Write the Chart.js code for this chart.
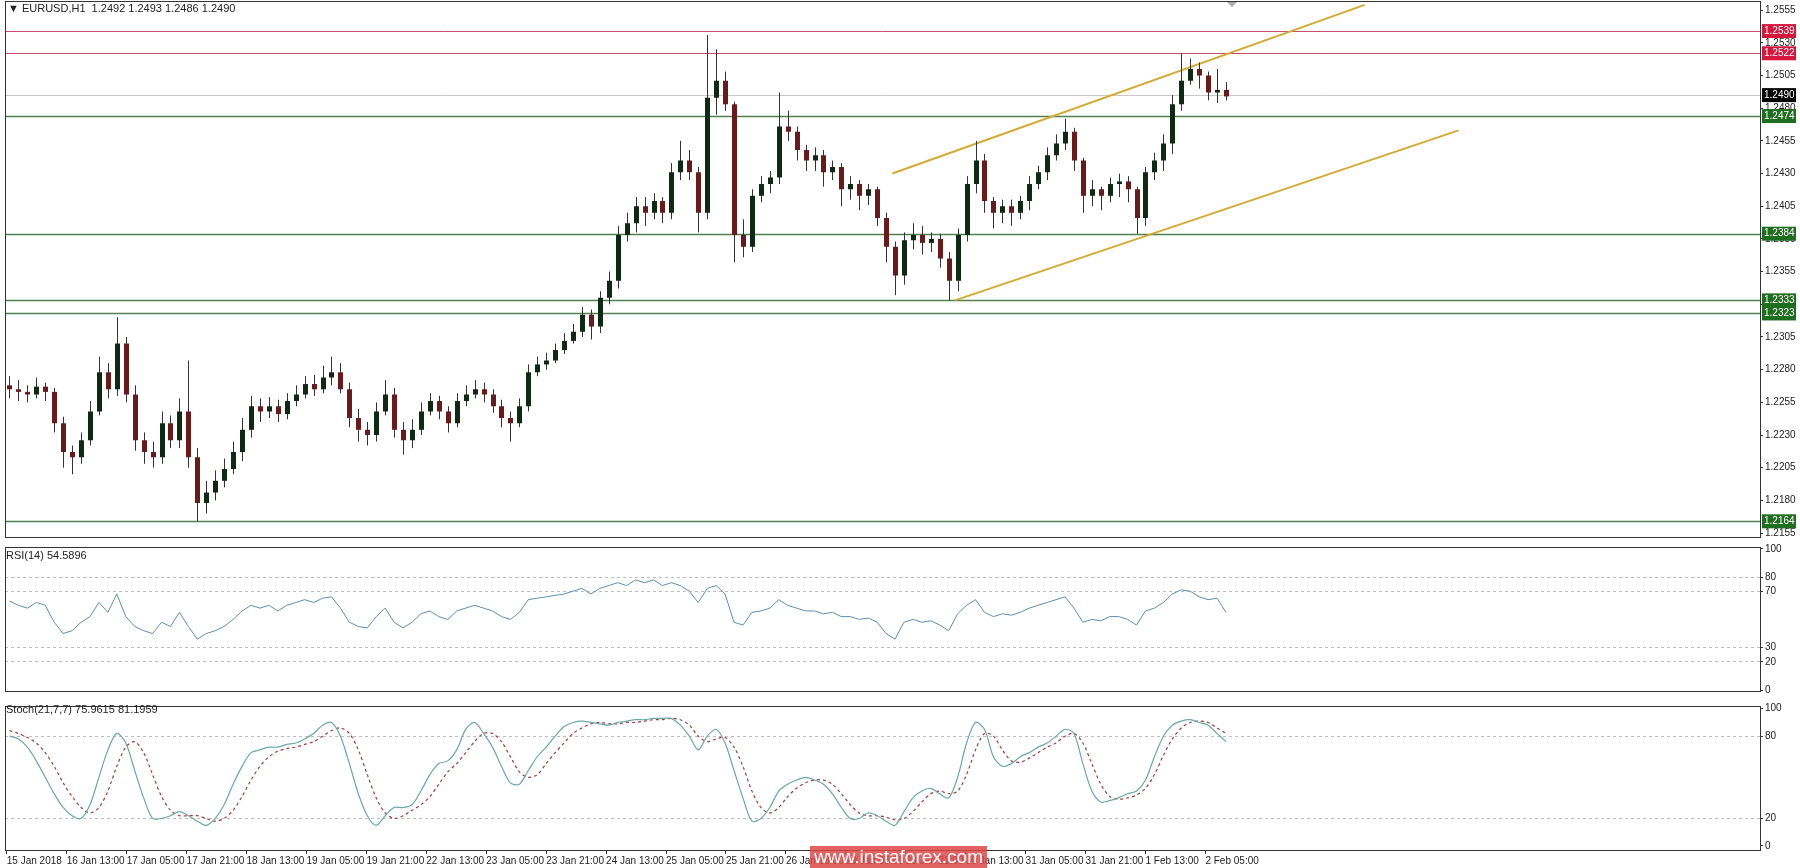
<!DOCTYPE html>
<html>
<head>
<meta charset="utf-8">
<script src="https://cdn.jsdelivr.net/npm/chart.js@4.4.1/dist/chart.umd.min.js"></script>
<style>
  html, body { margin: 0; padding: 0; background: #fff; overflow: hidden; }
  #wrap { position: relative; width: 1800px; height: 868px; font-family: "Liberation Sans", Arial, sans-serif; }
  canvas { position: absolute; left: 0; }
  .lbl { position: absolute; font-size: 11px; color: #222; white-space: nowrap; }
  #mark { position: absolute; left: 810px; top: 846px; width: 177px; height: 22px; background: rgba(222,70,70,0.85);
          color: #fff; font: 19px "Liberation Sans", Arial, sans-serif; text-align: center; line-height: 22px; }
</style>
</head>
<body>
<div id="wrap">
  <canvas id="main" width="1800" height="552" style="top:-7px"></canvas>
  <canvas id="rsi" width="1800" height="160" style="top:539px"></canvas>
  <canvas id="stoch" width="1800" height="170" style="top:698px"></canvas>
  <div class="lbl" style="left:8px;top:2px">&#9660; EURUSD,H1&nbsp; 1.2492 1.2493 1.2486 1.2490</div>
  <div class="lbl" style="left:6px;top:549px">RSI(14) 54.5896</div>
  <div class="lbl" style="left:6px;top:703px">Stoch(21,7,7) 75.9615 81.1959</div>
  <div id="mark">www.instaforex.com</div>
</div>
<script>
// ─── Data ─────────────────────────────────────────────
const FIRST_OPEN = 1.2268
const CLOSE = [
  1.2265,1.2263,1.2261,1.2267,1.2263,1.2239,1.2217,1.2213,1.2226,1.2248,1.2278,1.2265,1.2300,1.2261,1.2226,1.2217,
  1.2213,1.2239,1.2226,1.2248,1.2213,1.2178,1.2186,1.2195,1.2204,1.2217,1.2234,1.2252,1.2248,1.2252,1.2246,1.2256,
  1.2261,1.2269,1.2265,1.2274,1.2278,1.2265,1.2243,1.2234,1.2230,1.2248,1.2261,1.2234,1.2226,1.2234,1.2248,1.2256,
  1.2248,1.2239,1.2256,1.2261,1.2265,1.2261,1.2252,1.2243,1.2239,1.2252,1.2278,1.2284,1.2287,1.2295,1.2302,1.2309,
  1.2322,1.2313,1.2335,1.2348,1.2383,1.2392,1.2405,1.2400,1.2409,1.2400,1.2431,1.2440,1.2431,1.2400,1.2488,1.2501,
  1.2483,1.2383,1.2374,1.2413,1.2422,1.2427,1.2466,1.2462,1.2448,1.2440,1.2444,1.2431,1.2435,1.2418,1.2422,1.2413,
  1.2418,1.2396,1.2374,1.2352,1.2379,1.2383,1.2377,1.2380,1.2365,1.2348,1.2383,1.2422,1.2440,1.2409,1.2400,1.2405,
  1.2400,1.2409,1.2422,1.2431,1.2444,1.2453,1.2462,1.2440,1.2413,1.2418,1.2413,1.2422,1.2424,1.2418,1.2396,1.2431,
  1.2440,1.2453,1.2483,1.2501,1.2510,1.2505,1.2492,1.2494,1.2489
]
const HIGH = [
  1.2275,1.2272,1.2268,1.2274,1.2270,1.2266,1.2244,1.2222,1.2232,1.2256,1.2290,1.2285,1.2320,1.2305,1.2268,1.2232,
  1.2225,1.2248,1.2245,1.2258,1.2287,1.2220,1.2195,1.2203,1.2212,1.2225,1.2243,1.2260,1.2258,1.2259,1.2257,1.2262,
  1.2268,1.2275,1.2276,1.2283,1.2290,1.2285,1.2270,1.2250,1.2240,1.2255,1.2272,1.2266,1.2240,1.2242,1.2255,1.2262,
  1.2260,1.2252,1.2262,1.2268,1.2272,1.2270,1.2265,1.2257,1.2248,1.2258,1.2284,1.2290,1.2293,1.2300,1.2308,1.2315,
  1.2328,1.2326,1.2340,1.2355,1.2390,1.2400,1.2412,1.2412,1.2415,1.2412,1.2438,1.2455,1.2448,1.2435,1.2536,1.2525,
  1.2508,1.2485,1.2395,1.2418,1.2428,1.2432,1.2492,1.2478,1.2466,1.2452,1.2450,1.2448,1.2440,1.2438,1.2428,1.2425,
  1.2422,1.2420,1.2400,1.2378,1.2385,1.2392,1.2390,1.2385,1.2384,1.2370,1.2388,1.2428,1.2455,1.2445,1.2412,1.2410,
  1.2410,1.2413,1.2428,1.2436,1.2450,1.2460,1.2472,1.2465,1.2442,1.2425,1.2420,1.2427,1.2430,1.2428,1.2420,1.2435,
  1.2446,1.2460,1.2490,1.2522,1.2518,1.2515,1.2508,1.2510,1.2500
]
const LOW = [
  1.2258,1.2256,1.2255,1.2258,1.2256,1.2232,1.2205,1.2200,1.2208,1.2222,1.2245,1.2258,1.2260,1.2255,1.2218,1.2208,
  1.2205,1.2208,1.2220,1.2220,1.2205,1.2164,1.2170,1.2180,1.2190,1.2200,1.2210,1.2228,1.2240,1.2243,1.2240,1.2242,
  1.2252,1.2258,1.2260,1.2262,1.2268,1.2262,1.2236,1.2225,1.2222,1.2225,1.2245,1.2228,1.2215,1.2220,1.2230,1.2245,
  1.2242,1.2232,1.2236,1.2252,1.2258,1.2255,1.2247,1.2236,1.2225,1.2236,1.2248,1.2275,1.2280,1.2285,1.2292,1.2300,
  1.2305,1.2303,1.2308,1.2330,1.2342,1.2378,1.2385,1.2390,1.2395,1.2392,1.2395,1.2425,1.2425,1.2385,1.2395,1.2475,
  1.2478,1.2362,1.2366,1.2370,1.2408,1.2415,1.2422,1.2455,1.2440,1.2432,1.2432,1.2420,1.2425,1.2405,1.2410,1.2402,
  1.2406,1.2390,1.2362,1.2337,1.2345,1.2372,1.2368,1.2370,1.2358,1.2333,1.2340,1.2378,1.2415,1.2400,1.2388,1.2392,
  1.2390,1.2395,1.2402,1.2418,1.2425,1.2440,1.2448,1.2432,1.2400,1.2405,1.2402,1.2408,1.2412,1.2408,1.2384,1.2390,
  1.2425,1.2432,1.2445,1.2478,1.2498,1.2495,1.2486,1.2484,1.2486
]
const RSI = [
  63,60,58,62,60,48,40,42,48,52,62,55,68,52,45,42,40,48,45,55,45,36,40,42,45,50,56,60,58,60,56,60,
  62,64,62,65,66,58,48,45,44,52,58,48,44,48,54,56,52,50,56,58,60,58,56,52,50,55,64,65,66,67,68,70,
  72,68,72,74,76,74,78,76,78,74,76,74,70,62,72,74,68,48,46,55,56,58,64,60,58,56,56,54,55,52,52,50,
  51,48,40,36,48,50,48,49,46,42,54,60,64,55,52,54,53,55,58,60,62,64,66,58,48,50,49,52,52,50,46,56,
  58,62,68,71,70,66,64,65,55
]
const STOCH_K = [
  80,78,72,62,50,38,28,22,20,30,50,70,82,75,55,35,20,20,22,25,22,18,15,20,30,45,58,68,70,72,72,74,
  75,78,82,88,90,80,60,38,22,15,22,28,28,30,40,52,60,62,70,85,90,82,72,58,46,45,55,65,72,80,87,90,
  91,90,89,88,90,91,92,92,93,93,93,88,80,70,80,85,75,55,35,18,20,28,40,45,48,50,48,45,38,28,20,20,
  24,22,18,15,25,35,40,42,38,35,50,75,90,85,65,58,60,65,68,72,75,80,85,82,60,40,32,33,35,38,40,48,
  65,80,88,91,92,90,88,82,76
]
const STOCH_D = [
  84,82,79,75,68,58,46,36,28,24,28,40,58,72,76,68,52,36,26,22,22,22,20,18,20,26,36,48,58,65,69,71,
  72,74,76,80,84,86,82,70,52,35,24,20,22,26,30,36,45,54,60,68,76,82,82,76,65,54,50,52,60,68,75,82,
  86,89,90,89,89,90,90,91,92,92,93,92,88,80,76,78,79,72,58,40,28,24,28,36,42,46,48,48,45,38,30,24,
  22,22,21,19,20,25,32,38,40,38,40,52,70,82,80,70,62,61,64,68,72,75,80,82,75,60,45,36,34,35,37,42,
  52,66,78,86,90,91,90,86,82
]
const PRICE_TICKS = [1.2555,1.2530,1.2505,1.2480,1.2455,1.2430,1.2405,1.2380,1.2355,1.2330,1.2305,1.2280,1.2255,1.2230,1.2205,1.2180,1.2155]
const TIME_LABELS = ['15 Jan 2018','16 Jan 13:00','17 Jan 05:00','17 Jan 21:00','18 Jan 13:00','19 Jan 05:00','19 Jan 21:00',
  '22 Jan 13:00','23 Jan 05:00','23 Jan 21:00','24 Jan 13:00','25 Jan 05:00','25 Jan 21:00','26 Jan 13:00','29 Jan 05:00',
  '29 Jan 21:00','30 Jan 13:00','31 Jan 05:00','31 Jan 21:00','1 Feb 13:00','2 Feb 05:00']
const TIME_POS = [-0.3,6.4,13.1,19.8,26.5,33.2,39.9,46.6,53.3,60.0,66.7,73.4,80.1,86.8,93.5,100.2,106.9,113.6,120.3,127.0,133.7]
// horizontal levels: price, line colour, label box colour
const LEVELS = [
  [1.2539, '#c8506a', '#d6163c'], [1.2522, '#c8506a', '#d6163c'], [1.2490, '#c8c8c8', '#000000'],
  [1.2474, '#527f52', '#1f6e1f'], [1.2384, '#527f52', '#1f6e1f'], [1.2333, '#527f52', '#1f6e1f'],
  [1.2323, '#527f52', '#1f6e1f'], [1.2164, '#527f52', '#1f6e1f']
]
// channel lines: [bar, price] pairs
const CHANNEL_UP   = [[98.7, 1.2430], [151.5, 1.2559]]
const CHANNEL_DOWN = [[105.7, 1.2333], [162.0, 1.2463]]

// ─── Shared config ────────────────────────────────────
const FONT   = { family: '"Liberation Sans", Arial, sans-serif', size: 10 }
const X_MIN  = -0.5
const X_MAX  = 195.7
const bars   = CLOSE.map((_, i) => i)

function yAxis(min, max, ticks, gridFn) {
  return {
    position: 'right', min, max,
    afterBuildTicks: ax => { ax.ticks = ticks.map(v => ({ value: v })) },
    afterFit: ax => { ax.width = 37 },
    border: { display: false, dash: [3, 3] },
    grid: { drawOnChartArea: !!gridFn, color: gridFn || 'transparent', tickLength: 3, tickColor: '#333', drawTicks: true },
    ticks: { color: '#222', font: FONT, padding: 2, autoSkip: false, callback: v => ticks === PRICE_TICKS ? v.toFixed(4) : v }
  }
}

function xAxis(show) {
  return {
    type: 'linear', min: X_MIN, max: X_MAX, display: show,
    afterBuildTicks: ax => { ax.ticks = TIME_POS.map(v => ({ value: v })) },
    grid: { drawOnChartArea: false, tickLength: 4, tickColor: '#333' },
    border: { display: false },
    ticks: {
      color: '#222', font: FONT, autoSkip: false, maxRotation: 0, align: 'start', padding: 1,
      callback: (v, i) => TIME_LABELS[i]
    }
  }
}

const framePlugin = {
  id: 'frame',
  afterDraw(chart) {
    const { ctx, chartArea: a } = chart
    ctx.save()
    ctx.strokeStyle = '#333'
    ctx.lineWidth = 1
    ctx.strokeRect(a.left + 0.5, a.top + 0.5, a.right - a.left, a.bottom - a.top)
    ctx.restore()
  }
}

function baseOptions(yCfg, showX, padTop) {
  return {
    responsive: false, animation: false, devicePixelRatio: 1,
    layout: { padding: { left: 5, top: padTop, right: 3, bottom: 0 } },
    scales: { x: xAxis(showX), y: yCfg },
    plugins: { legend: { display: false }, tooltip: { enabled: false } }
  }
}

// ─── Main price panel ─────────────────────────────────
const pricePlugin = {
  id: 'price',
  beforeDatasetsDraw(chart) {
    const { ctx, chartArea: a, scales: { x, y } } = chart
    ctx.save()
    LEVELS.forEach(([p, c]) => {
      const py = Math.round(y.getPixelForValue(p)) + 0.5
      ctx.strokeStyle = c
      ctx.lineWidth = c === '#527f52' ? 1.5 : 1
      ctx.beginPath(); ctx.moveTo(a.left, py); ctx.lineTo(a.right, py); ctx.stroke()
    })
    ctx.beginPath(); ctx.rect(a.left, a.top, a.right - a.left, a.bottom - a.top); ctx.clip()
    ctx.strokeStyle = '#d4aa30'
    ctx.lineWidth = 2
    ;[CHANNEL_UP, CHANNEL_DOWN].forEach(seg => {
      ctx.beginPath()
      ctx.moveTo(x.getPixelForValue(seg[0][0]), y.getPixelForValue(seg[0][1]))
      ctx.lineTo(x.getPixelForValue(seg[1][0]), y.getPixelForValue(seg[1][1]))
      ctx.stroke()
    })
    // candles
    const half = 2.5
    CLOSE.forEach((c, i) => {
      const o  = i ? CLOSE[i - 1] : FIRST_OPEN
      const px = Math.round(x.getPixelForValue(i)) + 0.5
      const yo = y.getPixelForValue(o), yc = y.getPixelForValue(c)
      ctx.strokeStyle = '#333'
      ctx.lineWidth = 1
      ctx.beginPath(); ctx.moveTo(px, y.getPixelForValue(HIGH[i])); ctx.lineTo(px, y.getPixelForValue(LOW[i])); ctx.stroke()
      ctx.fillStyle = c >= o ? '#0f2a12' : '#6a1a1a'
      ctx.fillRect(px - half, Math.min(yo, yc), half * 2, Math.max(1, Math.abs(yc - yo)))
    })
    ctx.restore()
  },
  afterDraw(chart) {
    const { ctx, chartArea: a, scales: { y } } = chart
    ctx.save()
    ctx.font = '10px "Liberation Sans", Arial, sans-serif'
    ctx.textBaseline = 'middle'
    LEVELS.forEach(([p, , box]) => {
      const py = y.getPixelForValue(p)
      ctx.fillStyle = box
      ctx.fillRect(a.right + 2, py - 7, 34, 14)
      ctx.fillStyle = '#fff'
      ctx.fillText(p.toFixed(4), a.right + 4, py)
    })
    // small marker at top
    ctx.fillStyle = '#aaa'
    ctx.beginPath(); ctx.moveTo(1227, a.top + 1); ctx.lineTo(1237, a.top + 1); ctx.lineTo(1232, a.top + 6); ctx.fill()
    ctx.restore()
  }
}

new Chart(document.getElementById('main'), {
  type: 'line',
  data: { labels: bars, datasets: [{ data: CLOSE.map((c, i) => ({ x: i, y: c })), borderWidth: 0, pointRadius: 0, borderColor: 'transparent' }] },
  options: baseOptions(yAxis(1.2152, 1.2562, PRICE_TICKS), false, 2),
  plugins: [pricePlugin, framePlugin]
})

// ─── RSI panel ────────────────────────────────────────
const dashedLevels = levels => ctx => levels.includes(ctx.tick && ctx.tick.value) ? '#bdbdbd' : 'transparent'

new Chart(document.getElementById('rsi'), {
  type: 'line',
  data: { datasets: [{ data: RSI.map((v, i) => ({ x: i, y: v })), borderColor: '#5a90b4', borderWidth: 1, pointRadius: 0, tension: 0 }] },
  options: baseOptions(yAxis(-0.7, 101.3, [0, 20, 30, 70, 80, 100], dashedLevels([20, 30, 70, 80])), false, 1),
  plugins: [framePlugin]
})

// ─── Stochastic panel ─────────────────────────────────
new Chart(document.getElementById('stoch'), {
  type: 'line',
  data: {
    datasets: [
      { data: STOCH_K.map((v, i) => ({ x: i, y: v })), borderColor: '#6aa8a8', borderWidth: 1.2, pointRadius: 0, tension: 0.3 },
      { data: STOCH_D.map((v, i) => ({ x: i, y: v })), borderColor: '#a83a3a', borderWidth: 1.2, borderDash: [3, 3], pointRadius: 0, tension: 0.3 }
    ]
  },
  options: baseOptions(yAxis(-3, 102, [0, 20, 80, 100], dashedLevels([20, 80])), true, 0),
  plugins: [framePlugin]
})
</script>
</body>
</html>
